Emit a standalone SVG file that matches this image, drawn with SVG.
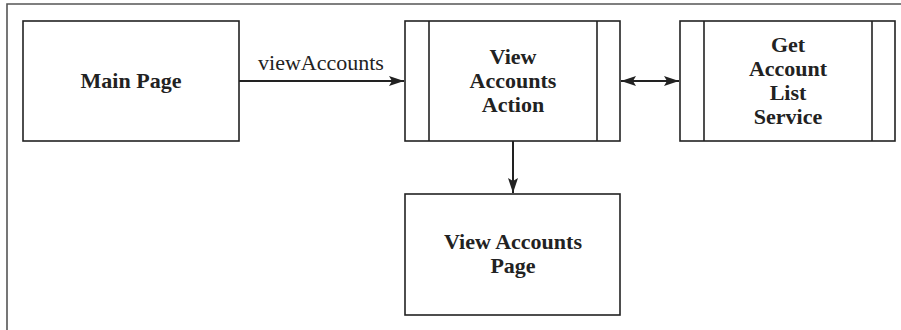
<svg xmlns="http://www.w3.org/2000/svg" width="901" height="330" viewBox="0 0 901 330">
<style>
.box{fill:#fff;stroke:#222;stroke-width:1.6}
.bar{stroke:#222;stroke-width:1.6}
.frame{fill:none;stroke:#555;stroke-width:1.6}
.lbl{font-family:'Liberation Serif',serif;font-weight:bold;font-size:22px;fill:#222;text-anchor:middle}
.edge{font-family:'Liberation Serif',serif;font-size:22px;fill:#222;text-anchor:middle}
.conn{stroke:#222;stroke-width:2;fill:none}
</style>
<defs>
<marker id="ah" viewBox="0 0 15 10" refX="15" refY="5" markerWidth="15" markerHeight="10" markerUnits="userSpaceOnUse" orient="auto-start-reverse">
<path d="M0,0 L15,5 L0,10 L3,5 z" fill="#222"/>
</marker>
</defs>
<path class="frame" d="M901,4 H7 V330"/>
<g id="main-page">
<rect class="box" x="23" y="21" width="216" height="120"/>
<text class="lbl" x="131" y="88">Main Page</text>
</g>
<g id="view-accounts-action">
<rect class="box" x="405" y="21" width="215" height="120"/>
<line class="bar" x1="429" y1="21" x2="429" y2="141"/>
<line class="bar" x1="597" y1="21" x2="597" y2="141"/>
<text class="lbl" x="513" y="64">View</text>
<text class="lbl" x="513" y="88">Accounts</text>
<text class="lbl" x="513" y="112">Action</text>
</g>
<g id="get-account-list-service">
<rect class="box" x="680" y="21" width="215" height="120"/>
<line class="bar" x1="704" y1="21" x2="704" y2="141"/>
<line class="bar" x1="872" y1="21" x2="872" y2="141"/>
<text class="lbl" x="788" y="52">Get</text>
<text class="lbl" x="788" y="76">Account</text>
<text class="lbl" x="788" y="100">List</text>
<text class="lbl" x="788" y="124">Service</text>
</g>
<g id="view-accounts-page">
<rect class="box" x="405" y="194" width="215" height="121"/>
<text class="lbl" x="513" y="249">View Accounts</text>
<text class="lbl" x="513" y="273">Page</text>
</g>
<g id="connectors">
<line class="conn" x1="239" y1="81" x2="404" y2="81" marker-end="url(#ah)"/>
<text class="edge" x="321" y="70">viewAccounts</text>
<line class="conn" x1="621" y1="81" x2="679" y2="81" marker-start="url(#ah)" marker-end="url(#ah)"/>
<line class="conn" x1="513" y1="141" x2="513" y2="193" marker-end="url(#ah)"/>
</g>
</svg>
